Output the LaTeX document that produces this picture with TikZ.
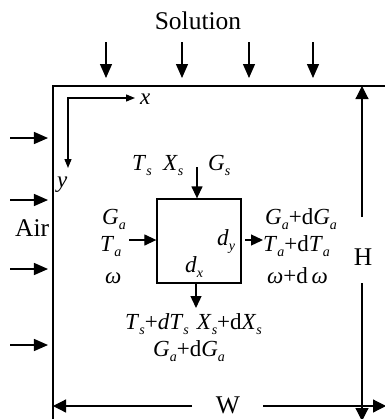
\documentclass[tikz,border=0pt]{standalone}
\usepackage{fontspec}
\setmainfont{Liberation Serif}
\usetikzlibrary{arrows.meta}
\newcommand\vs[2]{\textit{#1}\raisebox{-0.25em}{\fontsize{14bp}{14bp}\selectfont\textit{#2}}}
\begin{document}
\begin{tikzpicture}[x=1bp,y=-1bp,
  font=\fontsize{23bp}{26bp}\selectfont,
  lbl/.style={inner sep=0pt, anchor=base west},
  bigtxt/.style={font=\fontsize{25.5bp}{28bp}\selectfont},
  bigarr/.style={-{Triangle[length=14bp,width=12bp]}, line width=1.3bp},
  midarr/.style={-{Triangle[length=12bp,width=11bp]}, line width=1.3bp},
  axarr/.style={{Triangle[length=9bp,width=7bp]}-{Triangle[length=9bp,width=7bp]}, line width=1.3bp},
  dimarr/.style={-{Triangle[length=13bp,width=13bp]}, line width=1.2bp}]
\useasboundingbox (0,0) rectangle (385,419);
% outer frame
\coordinate (tl) at (53,86);
\coordinate (tr) at (386,86);
\coordinate (bl) at (53,420);
\draw[line width=1.3bp] (bl) -- (tl) -- (tr);
% solution
\node[bigtxt] (sol) at (198,21) {Solution};
\foreach \i/\x in {1/106,2/182,3/249,4/313}{
  \coordinate (sa\i) at (\x,42);
  \coordinate (sb\i) at (\x,78);
  \draw[bigarr] (sa\i) -- (sb\i);
}
% air
\foreach \i/\y in {1/138,2/200,3/269,4/345}{
  \coordinate (aa\i) at (10,\y);
  \coordinate (ab\i) at (48,\y);
  \draw[bigarr] (aa\i) -- (ab\i);
}
\node[lbl,bigtxt] (air) at (15,236) {Air};
% axes
\coordinate (o) at (68,98);
\coordinate (ox) at (135,98);
\coordinate (oy) at (68,168);
\draw[axarr] (ox) -- (o) -- (oy);
\node[lbl] (xl) at (140,104) {\textit{x}};
\node[lbl] (yl) at (57,187) {\textit{y}};
% cell
\node[draw, line width=1.3bp, minimum width=84bp, minimum height=84bp, inner sep=0pt] (cell) at (199,241) {};
\coordinate (ti) at (197,167);
\draw[midarr] (ti) -- (ti |- cell.north);
\coordinate (li) at (129,240);
\draw[midarr] (li) -- (li -| cell.west);
\coordinate (ro) at (245,240);
\coordinate (re) at (263,240);
\draw[midarr] (ro) -- (re);
\coordinate (bo) at (196,283);
\coordinate (be) at (196,308);
\draw[midarr] (bo) -- (be);
% labels
\node[lbl] (ts) at (132,170) {\vs{T}{s}};
\node[lbl] (xs) at (163,170) {\vs{X}{s}};
\node[lbl] (gs) at (208,170) {\vs{G}{s}};
\node[lbl] (gal) at (102,224) {\vs{G}{a}};
\node[lbl] (tal) at (100,251) {\vs{T}{a}};
\node[lbl] (wl) at (105,283) {\textit{ω}};
\node[lbl] (gar) at (265,224) {\vs{G}{a}+d\vs{G}{a}};
\node[lbl] (tar) at (263,251) {\vs{T}{a}+d\vs{T}{a}};
\node[lbl] (wr) at (267,283) {\textit{ω}+d\,\textit{ω}};
\node[lbl] (dy) at (217,245) {\vs{d}{y}};
\node[lbl] (dx) at (185,272) {\vs{d}{x}};
\node[lbl] (bl1) at (125,329) {\vs{T}{s}+\textit{d}\vs{T}{s}\hspace{0.35em}\vs{X}{s}+d\vs{X}{s}};
\node[lbl] (bl2) at (153,356) {\vs{G}{a}+d\vs{G}{a}};
% H dimension
\node[bigtxt] (hl) at (363,257) {H};
\coordinate (h1) at (362,217);
\coordinate (h2) at (362,86);
\coordinate (h3) at (362,283);
\coordinate (h4) at (362,421);
\draw[dimarr] (h1) -- (h2);
\draw[dimarr] (h3) -- (h4);
% W dimension
\node[bigtxt] (wlab) at (228,405) {W};
\coordinate (w1) at (192,406);
\coordinate (w2) at (53,406);
\coordinate (w3) at (263,406);
\coordinate (w4) at (386,406);
\draw[dimarr] (w1) -- (w2);
\draw[dimarr] (w3) -- (w4);
\end{tikzpicture}
\end{document}
